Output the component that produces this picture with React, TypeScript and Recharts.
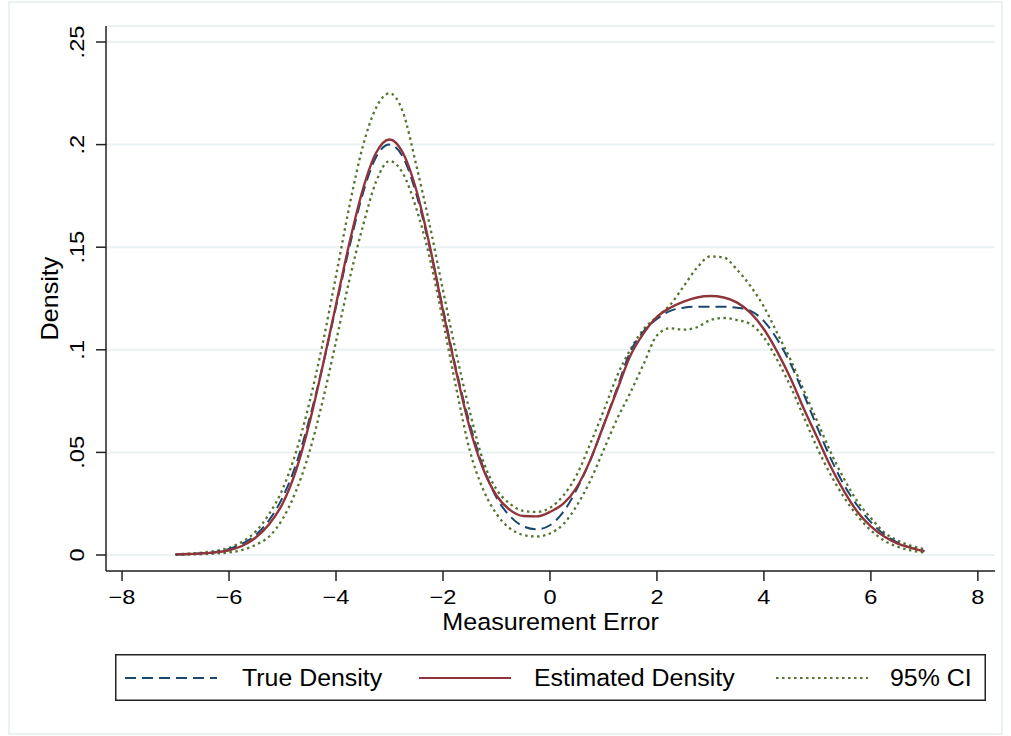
import React from 'react';
import { LineChart, Line, XAxis, YAxis, CartesianGrid, Label } from 'recharts';

// Evaluation grid (measurement error)
const xGrid = [
  -7, -6.75, -6.5, -6.25, -6, -5.75, -5.5, -5.25, -5, -4.75, -4.5, -4.25, -4, -3.75, -3.5, -3.25,
  -3, -2.75, -2.5, -2.25, -2, -1.75, -1.5, -1.25, -1, -0.75, -0.5, -0.25, 0, 0.25, 0.5, 0.75,
  1, 1.25, 1.5, 1.75, 2, 2.25, 2.5, 2.75, 3, 3.25, 3.5, 3.75, 4, 4.25, 4.5, 4.75,
  5, 5.25, 5.5, 5.75, 6, 6.25, 6.5, 6.75, 7,
];

const trueDensity = [
  0.0002, 0.0004, 0.0008, 0.0015, 0.003, 0.0055, 0.0098, 0.017, 0.028, 0.044, 0.066, 0.092, 0.121, 0.15, 0.176, 0.194,
  0.2, 0.194, 0.176, 0.15, 0.12, 0.09, 0.064, 0.043, 0.028, 0.019, 0.014, 0.0125, 0.0145, 0.021, 0.032, 0.046,
  0.063, 0.081, 0.099, 0.109, 0.115, 0.119, 0.1205, 0.121, 0.121, 0.121, 0.1205, 0.119, 0.114, 0.105, 0.093, 0.078,
  0.062, 0.047, 0.034, 0.024, 0.016, 0.01, 0.006, 0.0035, 0.002,
];

const estimatedDensity = [
  0.0003, 0.0005, 0.0008, 0.0013, 0.0023, 0.0045, 0.0085, 0.015, 0.025, 0.041, 0.064, 0.092, 0.122, 0.152, 0.178, 0.196,
  0.2025, 0.196, 0.178, 0.151, 0.119, 0.089, 0.062, 0.042, 0.029, 0.022, 0.019, 0.0188, 0.021, 0.025, 0.033, 0.046,
  0.063, 0.08, 0.097, 0.108, 0.116, 0.1205, 0.1235, 0.1255, 0.1262, 0.1255, 0.123, 0.118, 0.11, 0.099, 0.086, 0.071,
  0.057, 0.043, 0.031, 0.021, 0.014, 0.009, 0.0055, 0.0035, 0.0018,
];

const ciUpper = [
  0.0004, 0.0007, 0.0012, 0.002, 0.0035, 0.0065, 0.0115, 0.02, 0.032, 0.05, 0.074, 0.103, 0.136, 0.17, 0.199, 0.218,
  0.225, 0.216, 0.19, 0.161, 0.129, 0.098, 0.07, 0.046, 0.032, 0.025, 0.0215, 0.021, 0.023, 0.029, 0.039, 0.054,
  0.07, 0.087, 0.1, 0.11, 0.116, 0.122, 0.131, 0.14, 0.1455, 0.145, 0.139, 0.131, 0.121, 0.108, 0.095, 0.08,
  0.065, 0.05, 0.037, 0.026, 0.018, 0.011, 0.007, 0.0045, 0.0028,
];

const ciLower = [
  0.0001, 0.0002, 0.0004, 0.0007, 0.0012, 0.0025, 0.005, 0.009, 0.0175, 0.031, 0.05, 0.075, 0.104, 0.134, 0.16, 0.182,
  0.192, 0.186, 0.169, 0.145, 0.114, 0.081, 0.051, 0.032, 0.02, 0.013, 0.0098, 0.009, 0.0105, 0.015, 0.024, 0.036,
  0.051, 0.066, 0.079, 0.093, 0.107, 0.1105, 0.1098, 0.111, 0.1145, 0.1155, 0.1145, 0.1125, 0.106, 0.095, 0.082, 0.067,
  0.052, 0.039, 0.028, 0.019, 0.012, 0.007, 0.004, 0.0022, 0.0012,
];

const xTicks = [-8, -6, -4, -2, 0, 2, 4, 6, 8];
const yTicks = [0, 0.05, 0.1, 0.15, 0.2, 0.25];
const yTickLabels = ['0', '.05', '.1', '.15', '.2', '.25'];

const seriesNames = ['True Density', 'Estimated Density', '95% CI'];

const NAVY = '#1a476f';
const MAROON = '#90353b';
const FOREST = '#55752f';
const GRID = '#eaf2f3';
const FONT = '"Liberation Sans", Arial, Helvetica, sans-serif';

const TRUE_DASH = '11 6';
const CI_DASH = '2.5 3.5';

const data = xGrid.map((x, i) => ({
  x,
  trueD: trueDensity[i],
  est: estimatedDensity[i],
  hi: ciUpper[i],
  lo: ciLower[i],
}));

const fmtX = (v: number) => (v < 0 ? `\u2212${Math.abs(v)}` : `${v}`);

const XTick = (props: any) => {
  const { x, y, payload } = props;
  return (
    <text
      x={0}
      y={0}
      dy="0.71em"
      transform={`translate(${x},${y}) scale(1.18,1)`}
      textAnchor="middle"
      fontFamily={FONT}
      fontSize={20}
      fill="#000"
    >
      {fmtX(payload.value)}
    </text>
  );
};

const YTick = (props: any) => {
  const { x, y, payload } = props;
  const idx = yTicks.findIndex((t) => Math.abs(t - payload.value) < 1e-9);
  const label = idx >= 0 ? yTickLabels[idx] : String(payload.value);
  return (
    <text
      x={0}
      y={0}
      transform={`translate(${x},${y}) rotate(-90) scale(1.18,1)`}
      textAnchor="middle"
      fontFamily={FONT}
      fontSize={20}
      fill="#000"
    >
      {label}
    </text>
  );
};

const XTitle = (props: any) => {
  const vb = props.viewBox;
  return (
    <text
      x={0}
      y={0}
      transform={`translate(${vb.x + vb.width / 2},${vb.y + 58.5}) scale(1.07,1)`}
      textAnchor="middle"
      fontFamily={FONT}
      fontSize={23.5}
      fill="#000"
    >
      Measurement Error
    </text>
  );
};

const YTitle = (props: any) => {
  const vb = props.viewBox;
  return (
    <text
      x={0}
      y={0}
      transform={`translate(58,${vb.y + vb.height / 2}) rotate(-90) scale(1.07,1)`}
      textAnchor="middle"
      fontFamily={FONT}
      fontSize={23.5}
      fill="#000"
    >
      Density
    </text>
  );
};

// Legend row: sample line + label for each series
const legendItems = [
  { name: seriesNames[0], color: NAVY, dash: TRUE_DASH, x0: 10, x1: 102, tx: 127 },
  { name: seriesNames[1], color: MAROON, dash: undefined, x0: 304, x1: 396, tx: 419 },
  { name: seriesNames[2], color: FOREST, dash: CI_DASH, x0: 661, x1: 753, tx: 775 },
];

const LegendBox = () => (
  <svg
    width={871}
    height={47}
    style={{ position: 'absolute', left: 115, top: 654, overflow: 'visible' }}
  >
    <rect x={0.75} y={0.75} width={869.5} height={45.5} fill="#fff" stroke="#222" strokeWidth={1.5} />
    {legendItems.map((it) => (
      <g key={it.name}>
        <line
          x1={it.x0}
          x2={it.x1}
          y1={24}
          y2={24}
          stroke={it.color}
          strokeWidth={2}
          strokeDasharray={it.dash}
        />
        <text
          x={0}
          y={0}
          transform={`translate(${it.tx},32) scale(1.06,1)`}
          fontFamily={FONT}
          fontSize={23.5}
          fill="#000"
        >
          {it.name}
        </text>
      </g>
    ))}
  </svg>
);

export default function App() {
  return (
    <div
      style={{
        position: 'absolute',
        left: 0,
        top: 0,
        width: 1011,
        height: 736,
        background: '#fff',
        overflow: 'hidden',
      }}
    >
      <div
        style={{
          position: 'absolute',
          left: 8,
          top: 1,
          width: 995,
          height: 734,
          border: `2px solid ${GRID}`,
          boxSizing: 'border-box',
        }}
      />
      <div style={{ position: 'absolute', left: 0, top: 0 }}>
        <LineChart
          width={1011}
          height={736}
          data={data}
          margin={{ top: 26, right: 16, bottom: 105, left: 0 }}
        >
          <CartesianGrid horizontal vertical={false} stroke={GRID} strokeWidth={2} />
          <XAxis
            dataKey="x"
            type="number"
            domain={[-8.3, 8.32]}
            ticks={xTicks}
            allowDataOverflow
            height={60}
            tickSize={10}
            tickMargin={9}
            tick={<XTick />}
            axisLine={{ stroke: '#222', strokeWidth: 1.5 }}
            tickLine={{ stroke: '#222', strokeWidth: 1.5 }}
            interval={0}
          >
            <Label content={<XTitle />} />
          </XAxis>
          <YAxis
            type="number"
            domain={[-0.0078, 0.2578]}
            ticks={yTicks}
            allowDataOverflow
            width={106}
            tickSize={10}
            tickMargin={12}
            tick={<YTick />}
            axisLine={{ stroke: '#222', strokeWidth: 1.5 }}
            tickLine={{ stroke: '#222', strokeWidth: 1.5 }}
            interval={0}
          >
            <Label content={<YTitle />} />
          </YAxis>
          <Line
            dataKey="hi"
            name={seriesNames[2]}
            type="monotone"
            stroke={FOREST}
            strokeWidth={2.3}
            strokeDasharray={CI_DASH}
            dot={false}
            activeDot={false}
            isAnimationActive={false}
          />
          <Line
            dataKey="lo"
            name={seriesNames[2]}
            type="monotone"
            stroke={FOREST}
            strokeWidth={2.3}
            strokeDasharray={CI_DASH}
            dot={false}
            activeDot={false}
            isAnimationActive={false}
          />
          <Line
            dataKey="trueD"
            name={seriesNames[0]}
            type="monotone"
            stroke={NAVY}
            strokeWidth={2}
            strokeDasharray={TRUE_DASH}
            dot={false}
            activeDot={false}
            isAnimationActive={false}
          />
          <Line
            dataKey="est"
            name={seriesNames[1]}
            type="monotone"
            stroke={MAROON}
            strokeWidth={2.4}
            dot={false}
            activeDot={false}
            isAnimationActive={false}
          />
        </LineChart>
      </div>
      <LegendBox />
    </div>
  );
}
